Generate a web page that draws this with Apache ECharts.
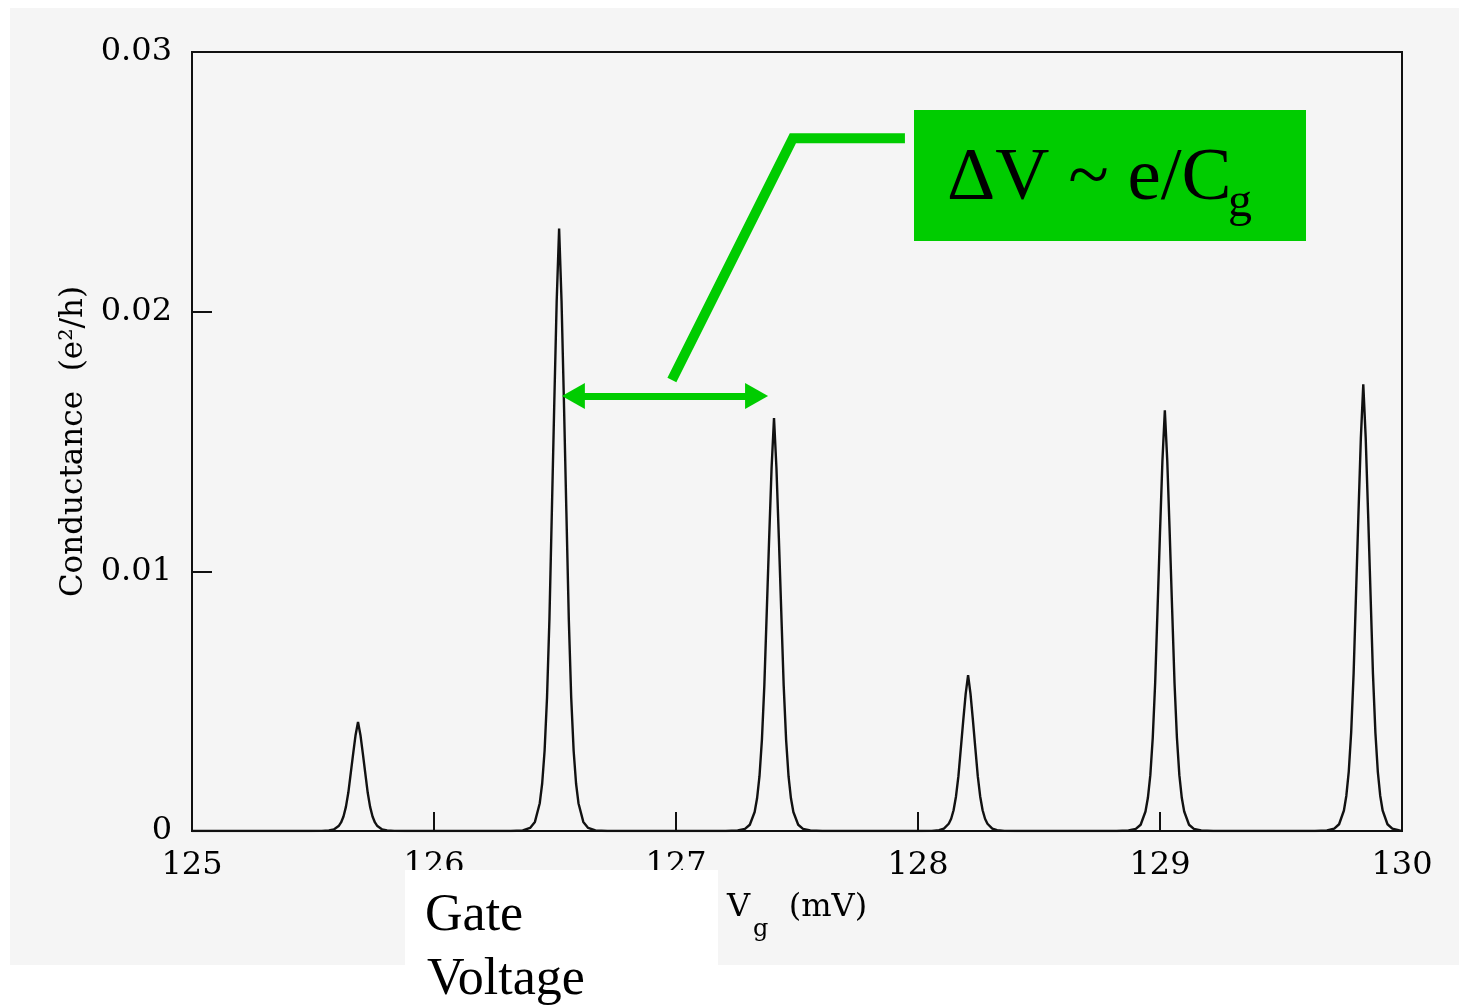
<!DOCTYPE html>
<html>
<head>
<meta charset="utf-8">
<script src="https://cdn.jsdelivr.net/npm/echarts@6/dist/echarts.min.js"></script>
<style>
html,body{margin:0;padding:0;background:#ffffff;}
#chart{width:1459px;height:1005px;}
</style>
</head>
<body>
<div id="chart"></div>
<script>
// ---- data ----
const xTicks = [125, 126, 127, 128, 129, 130];       // Vg (mV)
const yTicks = [0, 0.01, 0.02, 0.03];                // conductance (e^2/h)

const baseStart = [[125.0, 0]];
const peak1 = [[125.486,0],[125.536,0.000004],[125.566,0.00002],[125.586,0.00006],[125.606,0.00019],[125.616,0.00033],[125.626,0.00056],[125.636,0.00093],[125.646,0.00148],[125.656,0.00223],[125.666,0.00298],[125.676,0.00370],[125.686,0.00420],[125.696,0.00370],[125.706,0.00298],[125.716,0.00223],[125.726,0.00148],[125.736,0.00093],[125.746,0.00056],[125.756,0.00033],[125.766,0.00019],[125.786,0.00006],[125.806,0.00002],[125.836,0.000004],[125.886,0]];
const peak2 = [[126.317,0],[126.367,0.00002],[126.397,0.00012],[126.417,0.00035],[126.437,0.00107],[126.447,0.00183],[126.457,0.00309],[126.467,0.00513],[126.477,0.00817],[126.487,0.01230],[126.497,0.01647],[126.507,0.02042],[126.517,0.02320],[126.527,0.02042],[126.537,0.01647],[126.547,0.01230],[126.557,0.00817],[126.567,0.00513],[126.577,0.00309],[126.587,0.00183],[126.597,0.00107],[126.617,0.00035],[126.637,0.00012],[126.667,0.00002],[126.717,0]];
const peak3 = [[127.205,0],[127.255,0.00002],[127.285,0.00008],[127.305,0.00024],[127.325,0.00073],[127.335,0.00126],[127.345,0.00211],[127.355,0.00351],[127.365,0.00560],[127.375,0.00843],[127.385,0.01129],[127.395,0.01399],[127.405,0.01590],[127.415,0.01399],[127.425,0.01129],[127.435,0.00843],[127.445,0.00560],[127.455,0.00351],[127.465,0.00211],[127.475,0.00126],[127.485,0.00073],[127.505,0.00024],[127.525,0.00008],[127.555,0.00002],[127.605,0]];
const peak4 = [[128.007,0],[128.057,0.000006],[128.087,0.00003],[128.107,0.00009],[128.127,0.00028],[128.137,0.00047],[128.147,0.00080],[128.157,0.00133],[128.167,0.00211],[128.177,0.00318],[128.187,0.00426],[128.197,0.00528],[128.207,0.00600],[128.217,0.00528],[128.227,0.00426],[128.237,0.00318],[128.247,0.00211],[128.257,0.00133],[128.267,0.00080],[128.277,0.00047],[128.287,0.00028],[128.307,0.00009],[128.327,0.00003],[128.357,0.000006],[128.407,0]];
const peak5 = [[128.820,0],[128.870,0.00002],[128.900,0.00008],[128.920,0.00024],[128.940,0.00075],[128.950,0.00128],[128.960,0.00215],[128.970,0.00358],[128.980,0.00570],[128.990,0.00859],[129.000,0.01150],[129.010,0.01426],[129.020,0.01620],[129.030,0.01426],[129.040,0.01150],[129.050,0.00859],[129.060,0.00570],[129.070,0.00358],[129.080,0.00215],[129.090,0.00128],[129.100,0.00075],[129.120,0.00024],[129.140,0.00008],[129.170,0.00002],[129.220,0]];
const peak6 = [[129.640,0],[129.690,0.00002],[129.720,0.00009],[129.740,0.00026],[129.760,0.00079],[129.770,0.00136],[129.780,0.00229],[129.790,0.00380],[129.800,0.00605],[129.810,0.00912],[129.820,0.01221],[129.830,0.01514],[129.840,0.01720],[129.850,0.01514],[129.860,0.01221],[129.870,0.00912],[129.880,0.00605],[129.890,0.00380],[129.900,0.00229],[129.910,0.00136],[129.920,0.00079],[129.940,0.00026],[129.960,0.00009],[129.990,0.00002]];
const baseEnd = [[130.0, 0]];

// annotation anchors (data coordinates)
const calloutPath = [[127.946, 0.02668], [127.483, 0.02668], [126.983, 0.01737]];
const spacingArrow = [[126.576, 0.01675], [127.333, 0.01675]];

const GREEN = '#00cc00';
const SERIF = '"DejaVu Serif", "Liberation Serif", serif';
const TIMES = '"Liberation Serif", "Times New Roman", serif';

const curve = [].concat(baseStart, peak1, peak2, peak3, peak4, peak5, peak6, baseEnd);

const chart = echarts.init(document.getElementById('chart'), null, {renderer: 'canvas'});
chart.setOption({
  backgroundColor: '#ffffff',
  animation: false,
  grid: {left: 192, right: 57, top: 52, bottom: 174, show: true, borderColor: '#111', borderWidth: 2, backgroundColor: 'transparent'},
  xAxis: {
    type: 'value', min: xTicks[0], max: xTicks[xTicks.length - 1], interval: xTicks[1] - xTicks[0],
    axisLine: {lineStyle: {color: '#111', width: 2}},
    axisTick: {inside: true, length: 19, lineStyle: {color: '#111', width: 2}},
    axisLabel: {margin: 19, color: '#000', fontFamily: SERIF, fontSize: 32},
    splitLine: {show: false},
    name: '{v|V}{g|g}{r|  (mV)}',
    nameLocation: 'middle', nameGap: 61,
    nameTextStyle: {
      rich: {
        v: {fontFamily: SERIF, fontSize: 32, color: '#000', verticalAlign: 'top', lineHeight: 36},
        g: {fontFamily: SERIF, fontSize: 24, color: '#000', verticalAlign: 'bottom', lineHeight: 50, padding: [0, 0, 0, 3]},
        r: {fontFamily: SERIF, fontSize: 32, color: '#000', verticalAlign: 'top', lineHeight: 36}
      }
    }
  },
  yAxis: {
    type: 'value', min: yTicks[0], max: yTicks[yTicks.length - 1], interval: yTicks[1] - yTicks[0],
    axisLine: {show: true, lineStyle: {color: '#111', width: 2}},
    axisTick: {show: true, inside: true, length: 20, lineStyle: {color: '#111', width: 2}},
    axisLabel: {margin: 20, color: '#000', fontFamily: SERIF, fontSize: 32},
    splitLine: {show: false},
    name: 'Conductance  (e²/h)',
    nameLocation: 'middle', nameGap: 100,
    nameTextStyle: {fontFamily: SERIF, fontSize: 31, color: '#000'}
  },
  series: [
    {
      name: 'Conductance', type: 'line', data: curve, showSymbol: false, symbol: 'none',
      lineStyle: {color: '#111', width: 2.4}, z: 3,
      markLine: {
        silent: true, symbol: ['triangle', 'triangle'], symbolSize: [26, 23],
        lineStyle: {color: GREEN, width: 7, type: 'solid'},
        itemStyle: {color: GREEN},
        label: {show: false},
        data: [[{coord: spacingArrow[0]}, {coord: spacingArrow[1]}]]
      }
    },
    {
      name: 'callout', type: 'line', data: calloutPath, showSymbol: false, symbol: 'none',
      lineStyle: {color: GREEN, width: 10, cap: 'butt', join: 'miter'}, z: 4, silent: true
    }
  ],
  graphic: [
    {type: 'rect', z: -100, silent: true, shape: {x: 10, y: 8, width: 1449, height: 957}, style: {fill: '#f5f5f5'}},
    {type: 'rect', z: 100, silent: true, shape: {x: 914, y: 110, width: 392, height: 131}, style: {fill: GREEN}},
    {type: 'text', z: 101, silent: true, style: {x: 947, y: 179, text: 'ΔV ~ e/C', font: '75px ' + TIMES, fill: '#000', textAlign: 'left', textVerticalAlign: 'middle'}},
    {type: 'text', z: 101, silent: true, style: {x: 1228, y: 203, text: 'g', font: '48px ' + TIMES, fill: '#000', textAlign: 'left', textVerticalAlign: 'middle'}},
    {type: 'rect', z: 100, silent: true, shape: {x: 405, y: 870, width: 313, height: 135}, style: {fill: '#ffffff'}},
    {type: 'text', z: 101, silent: true, style: {x: 425, y: 916, text: 'Gate', font: '52px ' + TIMES, fill: '#000', textAlign: 'left', textVerticalAlign: 'middle'}},
    {type: 'text', z: 101, silent: true, style: {x: 427, y: 980, text: 'Voltage', font: '52px ' + TIMES, fill: '#000', textAlign: 'left', textVerticalAlign: 'middle'}}
  ]
});
</script>
</body>
</html>
